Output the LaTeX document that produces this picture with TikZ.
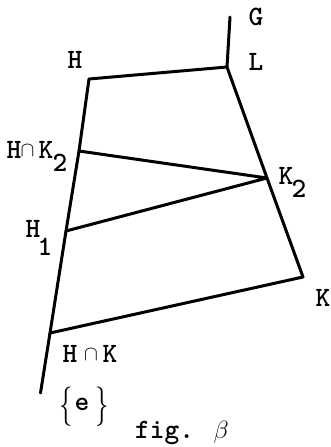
\documentclass[tikz,border=0pt]{standalone}
\begin{document}
\begin{tikzpicture}[x=1pt,y=-1pt,
  edge/.style={line width=3pt, line cap=round, line join=round},
  lbl/.style={font=\fontsize{28}{30}\selectfont\ttfamily\bfseries, inner sep=0pt, anchor=center},
  capl/.style={font=\fontsize{22}{24}\selectfont, inner sep=0pt, anchor=center},
  brace/.style={font=\fontsize{20}{22}\selectfont, inner sep=0pt, anchor=center, xscale=1.3, yscale=1.9}]
\useasboundingbox (0,0) rectangle (331,447);
% vertices
\coordinate (G) at (230,17);
\coordinate (L) at (227,67);
\coordinate (H) at (89,79);
\coordinate (HK2) at (79,151);
\coordinate (K2) at (267,178);
\coordinate (H1) at (66,231);
\coordinate (K) at (303,277);
\coordinate (HK) at (50,333);
\coordinate (E) at (40.5,393);
% edges
\draw[edge] (G) -- (L) -- (H) -- (HK2) -- (H1) -- (HK) -- (E);
\draw[edge] (L) -- (K2) -- (K) -- (HK);
\draw[edge] (HK2) -- (K2) -- (H1);
% labels
\node[lbl] (tG) at (256,17) {G};
\node[lbl] (tL) at (256,62) {L};
\node[lbl] (tH) at (75,60) {H};
\node[lbl] (tK) at (323,298) {K};
\node[lbl] (a1) at (14,150) {H};
\node[capl] (a2) at (27.5,151) {$\cap$};
\node[lbl] (a3) at (46,150) {K};
\node[lbl] (a4) at (60,163) {2};
\node[lbl] (b1) at (286,176) {K};
\node[lbl] (b2) at (299,189) {2};
\node[lbl] (c1) at (33,229) {H};
\node[lbl] (c2) at (45,247) {1};
\node[lbl] (d1) at (70,354) {H};
\node[capl] (d2) at (91,355) {$\cap$};
\node[lbl] (d3) at (110,354) {K};
\node[brace] (e1) at (66,407) {$\{$};
\node[lbl] (e2) at (82,404) {e};
\node[brace] (e3) at (102,407) {$\}$};
\node[lbl] (fig) at (182,433) {fig. $\beta$};
\end{tikzpicture}
\end{document}
